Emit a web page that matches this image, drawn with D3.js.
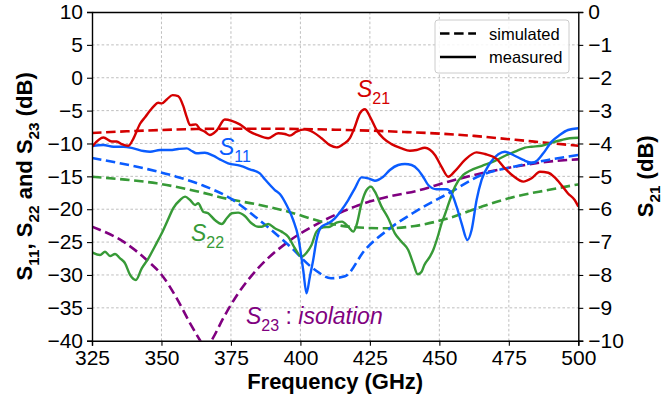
<!DOCTYPE html>
<html>
<head>
<meta charset="utf-8">
<script src="https://cdn.jsdelivr.net/npm/d3@7"></script>
<style>
  html, body { margin: 0; padding: 0; background: #fff; }
  svg { display: block; font-family: "Liberation Sans", Arial, sans-serif; }
</style>
</head>
<body>
<svg id="chart" width="669" height="403"></svg>
<script>
// Frequency sweep, GHz, and dB values per trace: [frequency, dB]
const s21Measured = [
  [325.0,-4.10],[329.1,-3.82],[332.1,-3.94],[333.9,-3.94],[335.7,-4.02],[338.1,-4.07],
  [339.9,-3.85],[342.3,-3.40],[344.1,-3.20],[347.1,-2.88],[348.8,-2.76],[350.1,-2.78],
  [351.9,-2.66],[354.0,-2.53],[356.0,-2.56],[357.8,-2.85],[359.1,-3.20],[360.3,-3.44],
  [362.4,-3.42],[363.8,-3.56],[365.6,-3.64],[367.4,-3.74],[369.9,-3.60],[372.8,-3.27],
  [375.3,-3.31],[378.2,-3.42],[381.8,-3.64],[384.5,-3.74],[388.4,-3.84],[392.0,-3.69],
  [394.4,-3.71],[396.2,-3.76],[398.6,-3.64],[401.6,-3.57],[404.6,-3.66],[407.6,-3.84],
  [410.6,-4.05],[413.0,-4.12],[415.4,-4.02],[417.8,-3.84],[419.6,-3.49],[421.4,-3.08],
  [423.2,-2.96],[425.0,-3.18],[427.4,-3.59],[429.8,-3.84],[432.8,-4.02],[436.4,-4.15],
  [439.4,-4.22],[441.8,-4.20],[444.8,-4.13],[448.4,-4.35],[450.8,-4.71],[453.2,-5.01],
  [455.6,-4.84],[459.2,-4.50],[463.4,-4.27],[466.4,-4.32],[470.6,-4.47],[473.6,-4.76],
  [476.6,-4.99],[480.2,-5.16],[483.2,-5.06],[486.2,-4.86],[489.2,-4.89],[491.5,-5.03],
  [493.9,-5.26],[496.3,-5.52],[498.7,-5.72],[500.0,-5.92]
];
const s21Simulated = [
  [325,-3.68],[337.5,-3.63],[350,-3.59],[362.5,-3.56],[375,-3.55],[387.5,-3.55],
  [400,-3.56],[412.5,-3.58],[425,-3.61],[437.5,-3.65],[450,-3.70],[462.5,-3.77],
  [475,-3.87],[487.5,-3.97],[500,-4.07]
];
const s11Measured = [
  [325.2,-10.38],[329.1,-10.23],[332.7,-10.49],[336.3,-10.49],[339.9,-10.74],[343.5,-11.14],
  [345.9,-11.25],[349.5,-11.00],[353.1,-11.00],[356.0,-10.84],[359.1,-10.74],[360.9,-11.14],
  [362.7,-11.49],[365.6,-11.40],[368.6,-11.86],[371.0,-12.41],[374.0,-13.01],[378.2,-13.38],
  [381.8,-13.93],[385.4,-14.54],[387.2,-15.45],[390.8,-17.08],[392.6,-17.69],[395.0,-19.36],
  [397.4,-21.64],[399.2,-24.18],[401.0,-29.24],[402.2,-32.79],[403.4,-30.26],[404.6,-27.72],
  [405.8,-24.68],[407.6,-22.66],[410.0,-22.14],[412.4,-21.38],[414.8,-20.12],[417.2,-18.60],
  [419.6,-16.82],[422.0,-15.15],[424.4,-15.30],[426.8,-15.66],[429.8,-15.05],[432.2,-14.03],
  [435.2,-13.27],[437.6,-13.12],[440.0,-13.27],[442.4,-14.03],[444.5,-15.30],[446.0,-16.32],
  [449.0,-16.97],[452.6,-16.97],[454.4,-17.58],[456.2,-19.61],[458.0,-22.14],[460.1,-24.68],
  [461.6,-23.16],[463.4,-18.60],[465.2,-15.55],[468.2,-13.01],[471.2,-11.65],[473.6,-11.25],
  [476.6,-11.75],[480.2,-12.51],[483.2,-12.92],[485.0,-12.66],[487.4,-11.49],[490.4,-9.72],
  [493.3,-8.71],[496.3,-7.95],[500.0,-7.69]
];
const s11Simulated = [
  [325,-12.2],[335,-13.0],[345,-13.9],[355,-15.0],[365,-16.4],[375,-18.4],[383.6,-21.1],
  [395.6,-25.4],[405.2,-29.2],[411,-30.5],[416,-30.2],[423.2,-26.2],[431.6,-23.1],
  [441.2,-20.4],[453.2,-17.6],[465.2,-14.8],[477.2,-13.5],[489.1,-12.5],[500,-11.75]
];
const s22Measured = [
  [325.2,-26.61],[327.9,-26.96],[329.7,-26.46],[331.5,-27.12],[333.3,-26.81],[335.1,-27.47],
  [336.9,-28.23],[338.7,-30.00],[340.8,-30.77],[342.9,-28.99],[345.3,-27.47],[347.7,-25.59],
  [350.1,-23.66],[352.4,-21.53],[354.2,-19.86],[356.7,-18.60],[358.5,-18.09],[360.3,-18.60],
  [362.1,-19.36],[363.2,-19.10],[365.0,-20.37],[366.8,-20.62],[369.2,-21.64],[371.7,-22.25],
  [373.5,-21.38],[375.3,-20.62],[377.6,-20.52],[380.0,-21.03],[382.4,-22.14],[384.8,-22.66],
  [386.1,-22.66],[388.4,-22.25],[390.8,-22.90],[393.2,-23.41],[395.6,-24.18],[398.0,-25.94],
  [400.4,-27.22],[402.2,-26.61],[404.0,-25.44],[405.8,-23.41],[408.2,-22.75],[410.6,-22.66],
  [413.0,-22.05],[415.0,-21.89],[417.2,-22.66],[419.0,-23.41],[420.2,-22.40],[422.0,-19.10],
  [423.8,-17.08],[425.4,-16.57],[426.8,-17.34],[429.2,-19.61],[431.6,-21.38],[434.0,-23.66],
  [436.4,-24.94],[438.8,-26.20],[440.6,-28.23],[442.2,-29.90],[443.6,-29.50],[444.6,-28.48],
  [446.6,-27.22],[447.8,-26.20],[449.6,-23.92],[450.8,-22.14],[452.0,-20.80],[453.8,-18.60],
  [455.6,-16.57],[458.6,-14.79],[461.0,-14.14],[465.2,-13.43],[470.0,-12.66],[474.2,-11.75],
  [477.2,-11.25],[480.8,-10.64],[483.2,-10.49],[486.8,-10.34],[490.4,-9.88],[494.0,-9.47],
  [496.9,-9.21],[500.0,-9.12]
];
const s22Simulated = [
  [325,-15.05],[337,-15.5],[348.3,-16.06],[361,-17.1],[374.6,-18.5],[384.8,-19.3],
  [395.6,-20.37],[407.6,-21.89],[419.6,-22.75],[431.6,-22.9],[441.2,-22.55],[453.2,-21.38],
  [465.2,-19.61],[477.2,-18.09],[489.1,-17.08],[500,-16.22]
];
const s23Simulated = [
  [325,-22.66],[336.3,-24.94],[344.7,-27.72],[350.1,-30.0],[355.5,-33.55],[360.3,-37.35],
  [363.8,-39.9],[365.8,-41.2],[368.1,-39.9],[372.2,-36.6],[377.6,-32.8],[384.2,-29.24],
  [395.6,-24.94],[407.6,-21.89],[419.6,-19.61],[431.6,-18.09],[442,-17.2],[453.2,-15.81],
  [465.2,-14.54],[477.2,-13.53],[489.1,-12.77],[500,-12.41]
];

const freqTicks = [325, 350, 375, 400, 425, 450, 475, 500];
const leftTicks = [10, 5, 0, -5, -10, -15, -20, -25, -30, -35, -40];
const rightTicks = [0, -1, -2, -3, -4, -5, -6, -7, -8, -9, -10];

const colors = { s21: "#d40000", s11: "#0a5cff", s22: "#379a37", s23: "#800080" };

const svg = d3.select("#chart");
const m = { left: 92, right: 578.3, top: 12, bottom: 340.7 };

const x = d3.scaleLinear().domain([325, 500]).range([m.left, m.right]);
const yL = d3.scaleLinear().domain([-40, 10]).range([m.bottom, m.top]);
const yR = d3.scaleLinear().domain([-10, 0]).range([m.bottom, m.top]);

svg.append("defs").append("clipPath").attr("id", "plot-clip")
  .append("rect").attr("x", m.left).attr("y", m.top)
  .attr("width", m.right - m.left).attr("height", m.bottom - m.top);

// grid
const grid = svg.append("g").attr("stroke", "#b8b8b8").attr("stroke-width", 0.9)
  .attr("stroke-dasharray", "2.6,2.2");
grid.selectAll("line.v").data(freqTicks.slice(1, -1)).join("line")
  .attr("x1", d => x(d)).attr("x2", d => x(d)).attr("y1", m.top).attr("y2", m.bottom);
grid.selectAll("line.h").data(leftTicks.slice(1, -1)).join("line")
  .attr("y1", d => yL(d)).attr("y2", d => yL(d)).attr("x1", m.left).attr("x2", m.right);

// traces
const plot = svg.append("g").attr("clip-path", "url(#plot-clip)");
const lineL = d3.line().x(d => x(d[0])).y(d => yL(d[1])).curve(d3.curveMonotoneX);
const lineR = d3.line().x(d => x(d[0])).y(d => yR(d[1])).curve(d3.curveMonotoneX);
const dash = "9.5,4.6";

function trace(data, gen, color, dashed) {
  plot.append("path").datum(data).attr("d", gen)
    .attr("fill", "none").attr("stroke", color)
    .attr("stroke-width", dashed ? 2.6 : 2.4)
    .attr("stroke-linejoin", "round")
    .attr("stroke-dasharray", dashed ? dash : null);
}
trace(s23Simulated, lineL, colors.s23, true);
trace(s22Simulated, lineL, colors.s22, true);
trace(s11Simulated, lineL, colors.s11, true);
trace(s21Simulated, lineR, colors.s21, true);
trace(s22Measured, lineL, colors.s22, false);
trace(s11Measured, lineL, colors.s11, false);
trace(s21Measured, lineR, colors.s21, false);

// axes
const tickFont = 21;
const axB = svg.append("g").attr("transform", `translate(0,${m.bottom})`)
  .call(d3.axisBottom(x).tickValues(freqTicks).tickSize(5).tickPadding(4).tickFormat(d3.format("d")));
const axL = svg.append("g").attr("transform", `translate(${m.left},0)`)
  .call(d3.axisLeft(yL).tickValues(leftTicks).tickSize(5).tickPadding(4).tickFormat(d3.format("d")));
const axR = svg.append("g").attr("transform", `translate(${m.right},0)`)
  .call(d3.axisRight(yR).tickValues(rightTicks).tickSize(5).tickPadding(5).tickFormat(d3.format("d")));
const axT = svg.append("g").attr("transform", `translate(0,${m.top})`)
  .call(d3.axisTop(x).tickValues([]).tickSizeOuter(0));
[axB, axL, axR, axT].forEach(a => {
  a.selectAll("text").attr("font-size", tickFont).attr("fill", "#000")
    .attr("font-family", '"Liberation Sans", Arial, sans-serif');
  a.selectAll("line").attr("stroke", "#000").attr("stroke-width", 1.1);
  a.select(".domain").attr("stroke", "#000").attr("stroke-width", 1.4);
});

// axis titles
svg.append("text").attr("x", (m.left + m.right) / 2).attr("y", 389)
  .attr("text-anchor", "middle").attr("font-size", 22).attr("font-weight", "bold")
  .text("Frequency (GHz)");

// text made of plain runs and subscripts; a run after a subscript moves back up
function subLabel(t, parts, size) {
  let lowered = false;
  parts.forEach(p => {
    if (p.sub) {
      t.append("tspan").attr("font-size", size * 0.7).attr("dy", size * 0.3).text(p.sub);
      lowered = true;
    } else {
      t.append("tspan").attr("font-size", size)
        .attr("dy", lowered ? -size * 0.3 : null).text(p.t);
      lowered = false;
    }
  });
}

const leftTitle = svg.append("text")
  .attr("transform", `translate(32,${(m.top + m.bottom) / 2}) rotate(-90)`)
  .attr("text-anchor", "middle").attr("font-weight", "bold");
subLabel(leftTitle, [{t: "S"}, {sub: "11"}, {t: ", S"}, {sub: "22"}, {t: " and S"}, {sub: "23"}, {t: " (dB)"}], 22);

const rightTitle = svg.append("text")
  .attr("transform", `translate(653,${(m.top + m.bottom) / 2}) rotate(-90)`)
  .attr("text-anchor", "middle").attr("font-weight", "bold");
subLabel(rightTitle, [{t: "S"}, {sub: "21"}, {t: " (dB)"}], 22);

// trace annotations
function annot(xp, yp, color, sub, tail) {
  const t = svg.append("text").attr("x", xp).attr("y", yp).attr("fill", color).attr("font-size", 23);
  t.append("tspan").attr("font-style", "italic").text("S");
  t.append("tspan").attr("font-size", 16).attr("dy", 7).text(sub);
  if (tail) {
    t.append("tspan").attr("dy", -7).text(" : ");
    t.append("tspan").attr("font-style", "italic").text(tail);
  }
}
annot(357, 96.7, colors.s21, "21");
annot(219, 155, colors.s11, "11");
annot(191, 240.7, colors.s22, "22");
annot(246, 324, colors.s23, "23", "isolation");

// legend
const lg = svg.append("g");
lg.append("rect").attr("x", 435).attr("y", 20).attr("width", 134).attr("height", 53)
  .attr("rx", 3).attr("fill", "#fff").attr("fill-opacity", 0.85)
  .attr("stroke", "#cccccc").attr("stroke-width", 1);
const legendItems = [
  { label: "simulated", dashed: true, y: 33.5 },
  { label: "measured", dashed: false, y: 57 }
];
legendItems.forEach(it => {
  lg.append("line").attr("x1", 440).attr("x2", 476).attr("y1", it.y).attr("y2", it.y)
    .attr("stroke", "#000").attr("stroke-width", it.dashed ? 2.6 : 2.4)
    .attr("stroke-dasharray", it.dashed ? dash : null);
  lg.append("text").attr("x", 489).attr("y", it.y + 6).attr("font-size", 16.5).text(it.label);
});
</script>
</body>
</html>
